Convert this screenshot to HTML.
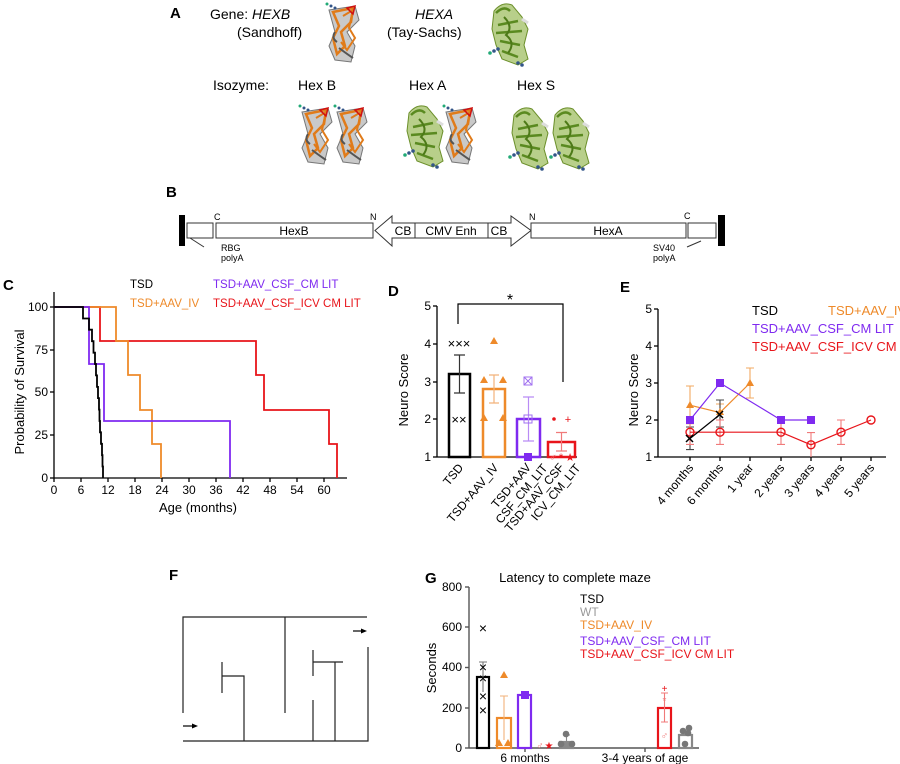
<!DOCTYPE html>
<html><head><meta charset="utf-8"><style>
html,body{margin:0;padding:0;background:#fff}
svg{display:block;font-family:"Liberation Sans",Arial,sans-serif}
</style></head><body>
<svg width="900" height="764" viewBox="0 0 900 764" xmlns="http://www.w3.org/2000/svg">
<defs>
<g id="pb">
 <path d="M4,8 L30,4 L34,18 L22,30 L30,44 L26,60 L10,58 L4,44 L10,30 Z" fill="#c9c9c9" stroke="#777" stroke-width="1"/>
 <path d="M8,10 L28,6 L26,20 L16,30 L20,44 L12,52 L8,36 L14,24 Z" fill="none" stroke="#e07b1a" stroke-width="2.5"/>
 <path d="M18,14 L28,8 L24,26 L30,36 L22,48 L16,40" fill="none" stroke="#e07b1a" stroke-width="2"/>
 <path d="M22,6 L30,4 L28,12 Z" fill="none" stroke="#d01010" stroke-width="1.5"/>
 <path d="M10,30 Q6,36 12,40 M14,46 Q22,52 28,56" fill="none" stroke="#555" stroke-width="2"/>
 <circle cx="2" cy="2" r="1.5" fill="#2a7"/><circle cx="6" cy="4" r="1.5" fill="#358"/><circle cx="10" cy="6" r="1.5" fill="#358"/>
</g>
<g id="pa">
 <path d="M6,10 Q14,0 24,4 L34,16 L40,28 L36,44 L40,58 L30,64 L14,58 L8,44 L4,28 Z" fill="#b8cf8a" stroke="#6b8f2a" stroke-width="1"/>
 <path d="M8,12 Q16,4 22,10 M10,24 L30,20 M8,32 L34,30 M12,40 L32,44 M14,50 L30,56" fill="none" stroke="#5a8a20" stroke-width="2.5"/>
 <path d="M16,16 Q26,26 18,34 Q28,42 20,52" fill="none" stroke="#4d7a18" stroke-width="2"/>
 <path d="M34,18 L40,22" stroke="#ddd" stroke-width="3"/>
 <circle cx="2" cy="52" r="1.8" fill="#2a7"/><circle cx="6" cy="50" r="1.8" fill="#358"/><circle cx="10" cy="48" r="1.8" fill="#358"/>
 <circle cx="30" cy="62" r="1.8" fill="#358"/><circle cx="34" cy="64" r="1.8" fill="#358"/>
</g>
</defs>

<!-- Panel A -->
<text x="170" y="18" font-size="15" font-weight="bold">A</text>
<text x="210" y="19" font-size="14">Gene: <tspan font-style="italic">HEXB</tspan></text>
<text x="237" y="37" font-size="14">(Sandhoff)</text>
<use href="#pb" x="325" y="2"/>
<text x="415" y="19" font-size="14" font-style="italic">HEXA</text>
<text x="387" y="37" font-size="14">(Tay-Sachs)</text>
<use href="#pa" x="488" y="1"/>
<text x="213" y="90" font-size="14">Isozyme:</text>
<text x="298" y="90" font-size="14">Hex B</text>
<text x="409" y="90" font-size="14">Hex A</text>
<text x="517" y="90" font-size="14">Hex S</text>
<use href="#pb" x="298" y="104"/>
<use href="#pb" x="333" y="104"/>
<use href="#pa" x="403" y="103"/>
<use href="#pb" x="442" y="104"/>
<use href="#pa" x="508" y="105"/>
<use href="#pa" x="549" y="105"/>

<!-- Panel B -->
<text x="166" y="197" font-size="15" font-weight="bold">B</text>
<g stroke="#333" stroke-width="1" fill="#fff">
 <rect x="179" y="215" width="6" height="31" fill="#000" stroke="none"/>
 <rect x="187" y="223" width="26" height="15"/>
 <rect x="216" y="223" width="157" height="15"/>
 <path d="M375,230.5 L392,216 L392,223 L511,223 L511,216 L531,230.5 L511,246 L511,238 L392,238 L392,246 Z"/>
 <line x1="415" y1="223" x2="415" y2="238"/>
 <line x1="488" y1="223" x2="488" y2="238"/>
 <rect x="531" y="223" width="155" height="15"/>
 <rect x="688" y="223" width="28" height="15"/>
 <rect x="718" y="215" width="7" height="31" fill="#000" stroke="none"/>
 <line x1="190" y1="238" x2="204" y2="247"/>
 <line x1="701" y1="241" x2="687" y2="247"/>
</g>
<g font-size="12" text-anchor="middle">
 <text x="294" y="235">HexB</text>
 <text x="403" y="235">CB</text>
 <text x="451" y="235">CMV Enh</text>
 <text x="499" y="235">CB</text>
 <text x="608" y="235">HexA</text>
</g>
<g font-size="9">
 <text x="214" y="220">C</text><text x="370" y="220">N</text>
 <text x="529" y="220">N</text><text x="684" y="219">C</text>
 <text x="221" y="251">RBG</text><text x="221" y="261">polyA</text>
 <text x="653" y="251">SV40</text><text x="653" y="261">polyA</text>
</g>

<!-- Panel C -->
<text x="3" y="290" font-size="15" font-weight="bold">C</text>
<g font-size="11.5">
 <text x="130" y="288">TSD</text>
 <text x="213" y="288" fill="#7f2af0">TSD+AAV_CSF_CM LIT</text>
 <text x="130" y="307" fill="#ee8a2a">TSD+AAV_IV</text>
 <text x="213" y="307" fill="#e8141a">TSD+AAV_CSF_ICV CM LIT</text>
</g>
<g stroke="#000" stroke-width="1.3">
 <line x1="54" y1="292" x2="54" y2="478"/>
 <line x1="54" y1="478" x2="347" y2="478"/>
 <line x1="50" y1="307" x2="54" y2="307"/><line x1="50" y1="350" x2="54" y2="350"/>
 <line x1="50" y1="392" x2="54" y2="392"/><line x1="50" y1="435" x2="54" y2="435"/>
 <line x1="50" y1="478" x2="54" y2="478"/>
 <line x1="54" y1="478" x2="54" y2="482"/><line x1="81" y1="478" x2="81" y2="482"/>
 <line x1="108" y1="478" x2="108" y2="482"/><line x1="135" y1="478" x2="135" y2="482"/>
 <line x1="162" y1="478" x2="162" y2="482"/><line x1="189" y1="478" x2="189" y2="482"/>
 <line x1="216" y1="478" x2="216" y2="482"/><line x1="243" y1="478" x2="243" y2="482"/>
 <line x1="270" y1="478" x2="270" y2="482"/><line x1="297" y1="478" x2="297" y2="482"/>
 <line x1="324" y1="478" x2="324" y2="482"/>
</g>
<g font-size="12" text-anchor="end">
 <text x="48" y="311">100</text><text x="48" y="354">75</text><text x="48" y="396">50</text>
 <text x="48" y="439">25</text><text x="48" y="482">0</text>
</g>
<g font-size="12" text-anchor="middle">
 <text x="54" y="494">0</text><text x="81" y="494">6</text><text x="108" y="494">12</text>
 <text x="135" y="494">18</text><text x="162" y="494">24</text><text x="189" y="494">30</text>
 <text x="216" y="494">36</text><text x="243" y="494">42</text><text x="270" y="494">48</text>
 <text x="297" y="494">54</text><text x="324" y="494">60</text>
 <text x="198" y="512" font-size="13">Age (months)</text>
 <text transform="translate(24,392) rotate(-90)" font-size="13">Probability of Survival</text>
</g>
<g fill="none" stroke-width="1.8">
 <path d="M54,307 H100 V341 H256 V375 H264 V410 H329 V444 H337 V478" stroke="#e8141a"/>
 <path d="M54,307 H116 V341 H128 V375 H140 V410 H152 V444 H161 V478" stroke="#ee8a2a"/>
 <path d="M54,307 H89 V364 H104 V421 H230 V478" stroke="#7f2af0"/>
 <path d="M54,307 H83 V318.5 H89 V329.7 H92 V341.2 H93.5 V352.7 H95 V364 H96 V375.4 H97 V386.9 H98 V398.1 H99 V409.6 H99.5 V421 H100 V432.3 H101 V443.8 H102 V455.2 H102.5 V466.5 H103 V478" stroke="#000"/>
</g>

<!-- Panel D -->
<text x="388" y="296" font-size="15" font-weight="bold">D</text>
<g stroke="#000" stroke-width="1.3">
 <line x1="437" y1="306" x2="437" y2="457"/>
 <line x1="437" y1="457" x2="577" y2="457"/>
 <line x1="433" y1="306" x2="437" y2="306"/><line x1="433" y1="344" x2="437" y2="344"/>
 <line x1="433" y1="382" x2="437" y2="382"/><line x1="433" y1="419" x2="437" y2="419"/>
 <line x1="433" y1="457" x2="437" y2="457"/>
</g>
<g font-size="12" text-anchor="end">
 <text x="431" y="310">5</text><text x="431" y="348">4</text><text x="431" y="386">3</text>
 <text x="431" y="423">2</text><text x="431" y="461">1</text>
</g>
<text transform="translate(408,390) rotate(-90)" font-size="13" text-anchor="middle">Neuro Score</text>
<path d="M458,324 V304 H563 V382" fill="none" stroke="#000" stroke-width="1.2"/>
<text x="510" y="305" font-size="16" text-anchor="middle">*</text>
<g fill="none" stroke-width="2.5">
 <rect x="449" y="374" width="21" height="83" stroke="#000"/>
 <rect x="483" y="389" width="22" height="68" stroke="#ee8a2a"/>
 <rect x="517" y="419" width="23" height="38" stroke="#7f2af0"/>
 <rect x="548" y="442" width="27" height="15" stroke="#e8141a"/>
</g>
<g fill="none" stroke-width="1.2">
 <path d="M459.5,355 V393 M454,355 H465 M454,393 H465" stroke="#333"/>
 <path d="M494,375 V403 M489,375 H499 M489,403 H499" stroke="#f2b27a"/>
 <path d="M528.5,397 V441 M523,397 H534 M523,441 H534" stroke="#b98cf5"/>
 <path d="M561.5,432.5 V451 M556,432.5 H567 M556,451 H567" stroke="#f07a7a"/>
</g>
<g font-size="13" text-anchor="middle">
 <text x="459" y="348">×××</text>
 <text x="459" y="424">××</text>
</g>
<g fill="#ee8a2a">
 <path d="M494,337 l4,7 h-8 z"/><path d="M484,376 l4,7 h-8 z"/><path d="M503,376 l4,7 h-8 z"/>
 <path d="M484,414 l4,7 h-8 z"/><path d="M503,414 l4,7 h-8 z"/>
</g>
<rect x="524" y="377" width="8" height="8" fill="none" stroke="#a070f0"/>
<path d="M524,377 l8,8 M532,377 l-8,8" stroke="#a070f0"/>
<rect x="524" y="415" width="8" height="8" fill="none" stroke="#a070f0"/>
<rect x="524" y="453" width="8" height="8" fill="#7f2af0"/>
<g fill="#e8141a" font-size="11" text-anchor="middle">
 <circle cx="554" cy="419" r="1.8"/><text x="568" y="423">+</text>
 <text x="553" y="461" fill="#f07a7a">♂</text><text x="561" y="461">*</text><text x="570" y="461">★</text>
</g>
<g font-size="12" text-anchor="end">
 <text transform="translate(464,468) rotate(-50)">TSD</text>
 <text transform="translate(499,468) rotate(-50)">TSD+AAV_IV</text>
 <text transform="translate(533,466) rotate(-50)"><tspan x="-2" dy="0">TSD+AAV</tspan><tspan x="8" dy="13">CSF_CM_LIT</tspan></text>
 <text transform="translate(566,466) rotate(-50)"><tspan x="-2" dy="0">TSD+AAV_CSF</tspan><tspan x="8" dy="13">ICV_CM_LIT</tspan></text>
</g>

<!-- Panel E -->
<text x="620" y="292" font-size="15" font-weight="bold">E</text>
<g stroke="#000" stroke-width="1.3">
 <line x1="658" y1="309" x2="658" y2="457"/>
 <line x1="658" y1="457" x2="886" y2="457"/>
 <line x1="654" y1="309" x2="658" y2="309"/><line x1="654" y1="346" x2="658" y2="346"/>
 <line x1="654" y1="383" x2="658" y2="383"/><line x1="654" y1="420" x2="658" y2="420"/>
 <line x1="654" y1="457" x2="658" y2="457"/>
 <line x1="690" y1="457" x2="690" y2="461"/><line x1="720" y1="457" x2="720" y2="461"/>
 <line x1="750" y1="457" x2="750" y2="461"/><line x1="781" y1="457" x2="781" y2="461"/>
 <line x1="811" y1="457" x2="811" y2="461"/><line x1="841" y1="457" x2="841" y2="461"/>
 <line x1="871" y1="457" x2="871" y2="461"/>
</g>
<g font-size="12" text-anchor="end">
 <text x="652" y="313">5</text><text x="652" y="350">4</text><text x="652" y="387">3</text>
 <text x="652" y="424">2</text><text x="652" y="461">1</text>
</g>
<text transform="translate(638,390) rotate(-90)" font-size="13" text-anchor="middle">Neuro Score</text>
<g font-size="13">
 <text x="752" y="315">TSD</text>
 <text x="828" y="315" fill="#ee8a2a">TSD+AAV_IV</text>
 <text x="752" y="333" fill="#7f2af0">TSD+AAV_CSF_CM LIT</text>
 <text x="752" y="351" fill="#e8141a">TSD+AAV_CSF_ICV CM LIT</text>
</g>
<g fill="none" stroke-width="1.1">
 <path d="M690,386 V423.7 M686,386 H694 M686,423.7 H694 M720,404 V419 M716,404 H724 M750,368 V398 M746,368 H754 M746,398 H754" stroke="#f2a860"/>
 <path d="M690,427 V449.6 M686,427 H694 M686,449.6 H694 M720,400 V427 M716,400 H724 M716,427 H724" stroke="#444"/>
 <path d="M690,420 V444.4 M686,420 H694 M686,444.4 H694 M720,420 V444.4 M716,420 H724 M716,444.4 H724 M781,420 V444.4 M777,420 H785 M777,444.4 H785 M811,432.6 V457 M807,432.6 H815 M841,420 V444.4 M837,420 H845 M837,444.4 H845" stroke="#f07a7a"/>
</g>
<polyline points="690,432.2 720,432.2 781,432.2 811,444.8 841,432.2 871,420" fill="none" stroke="#e8141a" stroke-width="1.2"/>
<polyline points="690,405.2 720,412.6 750,383" fill="none" stroke="#ee8a2a" stroke-width="1.2"/>
<polyline points="690,420 720,383 781,420 811,420" fill="none" stroke="#7f2af0" stroke-width="1.2"/>
<polyline points="690,438.5 720,414.5" fill="none" stroke="#000" stroke-width="1.2"/>
<g fill="#7f2af0">
 <rect x="686" y="416" width="8" height="8"/><rect x="716" y="379" width="8" height="8"/>
 <rect x="777" y="416" width="8" height="8"/><rect x="807" y="416" width="8" height="8"/>
</g>
<g fill="#ee8a2a">
 <path d="M690,401 l4,7 h-8 z"/><path d="M720,408 l4,7 h-8 z"/><path d="M750,379 l4,7 h-8 z"/>
</g>
<g fill="none" stroke="#e8141a" stroke-width="1.4">
 <circle cx="690" cy="432.2" r="4"/><circle cx="720" cy="432.2" r="4"/><circle cx="781" cy="432.2" r="4"/>
 <circle cx="811" cy="444.8" r="4"/><circle cx="841" cy="432.2" r="4"/><circle cx="871" cy="420" r="4"/>
</g>
<path d="M686,435 l7,7 M693,435 l-7,7 M716,411 l7,7 M723,411 l-7,7" stroke="#000" stroke-width="1.5"/>
<g font-size="12" text-anchor="end">
 <text transform="translate(694,468) rotate(-50)">4 months</text>
 <text transform="translate(724,468) rotate(-50)">6 months</text>
 <text transform="translate(754,468) rotate(-50)">1 year</text>
 <text transform="translate(785,468) rotate(-50)">2 years</text>
 <text transform="translate(815,468) rotate(-50)">3 years</text>
 <text transform="translate(845,468) rotate(-50)">4 years</text>
 <text transform="translate(875,468) rotate(-50)">5 years</text>
</g>

<!-- Panel F -->
<text x="169" y="580" font-size="15" font-weight="bold">F</text>
<g stroke="#222" stroke-width="1.2" fill="none">
 <path d="M183,713 V617 H367"/>
 <path d="M183,741 H368 V647"/>
 <path d="M285,617 V713"/>
 <path d="M222,662 V693 M222,676 H244 V741"/>
 <path d="M313,650 V676 M313,662 H343 M335,662 V741 M313,700 V741"/>
</g>
<path d="M183,726 H193" stroke="#000" stroke-width="1.2"/><path d="M192,723.5 L198,726 L192,728.5 Z"/>
<path d="M353,631 H362" stroke="#000" stroke-width="1.2"/><path d="M361,628.5 L367,631 L361,633.5 Z"/>

<!-- Panel G -->
<text x="425" y="583" font-size="15" font-weight="bold">G</text>
<text x="575" y="582" font-size="13" text-anchor="middle">Latency to complete maze</text>
<g stroke="#555" stroke-width="1.4">
 <line x1="469" y1="587" x2="469" y2="748"/>
 <line x1="469" y1="748" x2="699" y2="748"/>
 <line x1="465" y1="587" x2="469" y2="587"/><line x1="465" y1="627" x2="469" y2="627"/>
 <line x1="465" y1="667.5" x2="469" y2="667.5"/><line x1="465" y1="708" x2="469" y2="708"/>
 <line x1="465" y1="748" x2="469" y2="748"/>
 <line x1="525" y1="748" x2="525" y2="752"/><line x1="645" y1="748" x2="645" y2="752"/>
</g>
<g font-size="12" text-anchor="end">
 <text x="462" y="591">800</text><text x="462" y="631">600</text><text x="462" y="671">400</text>
 <text x="462" y="712">200</text><text x="462" y="752">0</text>
</g>
<text transform="translate(436,668) rotate(-90)" font-size="13" text-anchor="middle">Seconds</text>
<g font-size="12" text-anchor="middle">
 <text x="525" y="762">6 months</text>
 <text x="645" y="762">3-4 years of age</text>
</g>
<g font-size="12">
 <text x="580" y="603">TSD</text>
 <text x="580" y="616" fill="#999">WT</text>
 <text x="580" y="629" fill="#ee8a2a">TSD+AAV_IV</text>
 <text x="580" y="645" fill="#7f2af0">TSD+AAV_CSF_CM LIT</text>
 <text x="580" y="658" fill="#e8141a">TSD+AAV_CSF_ICV CM LIT</text>
</g>
<g fill="none" stroke-width="2.2">
 <rect x="477" y="677" width="12" height="71" stroke="#000"/>
 <rect x="497" y="718" width="14" height="30" stroke="#ee8a2a"/>
 <rect x="518" y="695" width="13" height="53" stroke="#7f2af0"/>
 <rect x="560" y="742" width="13" height="6" stroke="#888" fill="#888"/>
 <rect x="658" y="708" width="13" height="40" stroke="#e8141a"/>
 <rect x="679" y="735" width="13" height="13" stroke="#888"/>
</g>
<g fill="none" stroke-width="1.1">
 <path d="M483,662 V692 M479,662 H487" stroke="#777"/>
 <path d="M504,696 V740 M500,696 H508" stroke="#f2b27a"/>
 <path d="M664.5,693 V722 M661,693 H668 M661,722 H668" stroke="#f07a7a"/>
 <path d="M566.5,735 V742 M563,735 H570" stroke="#888"/>
</g>
<g font-size="14" text-anchor="middle" fill="#000">
 <text x="483" y="633">×</text><text x="483" y="672">×</text><text x="483" y="683">×</text>
 <text x="483" y="701">×</text><text x="483" y="715">×</text>
</g>
<g fill="#ee8a2a">
 <path d="M504,671 l4,7 h-8 z"/><path d="M499,739 l4,7 h-8 z"/><path d="M508,739 l4,7 h-8 z"/>
</g>
<rect x="521" y="691" width="8" height="8" fill="#7f2af0"/>
<g font-size="10" fill="#e8141a" text-anchor="middle">
 <text x="540" y="749" fill="#f07a7a">♂</text><text x="549" y="749">★</text>
 <text x="664.5" y="692">+</text><text x="664.5" y="704" fill="#f07a7a">*</text>
 <text x="664.5" y="739" fill="#f07a7a">♂</text>
</g>
<g fill="#777">
 <circle cx="566" cy="734" r="3.3"/><circle cx="561" cy="744" r="3.3"/><circle cx="572" cy="744" r="3.3"/>
 <circle cx="689" cy="728" r="3.3"/><circle cx="683" cy="731" r="3.3"/><circle cx="688" cy="733" r="3.3"/><circle cx="685" cy="744" r="3.3"/>
</g>
</svg>
</body></html>
